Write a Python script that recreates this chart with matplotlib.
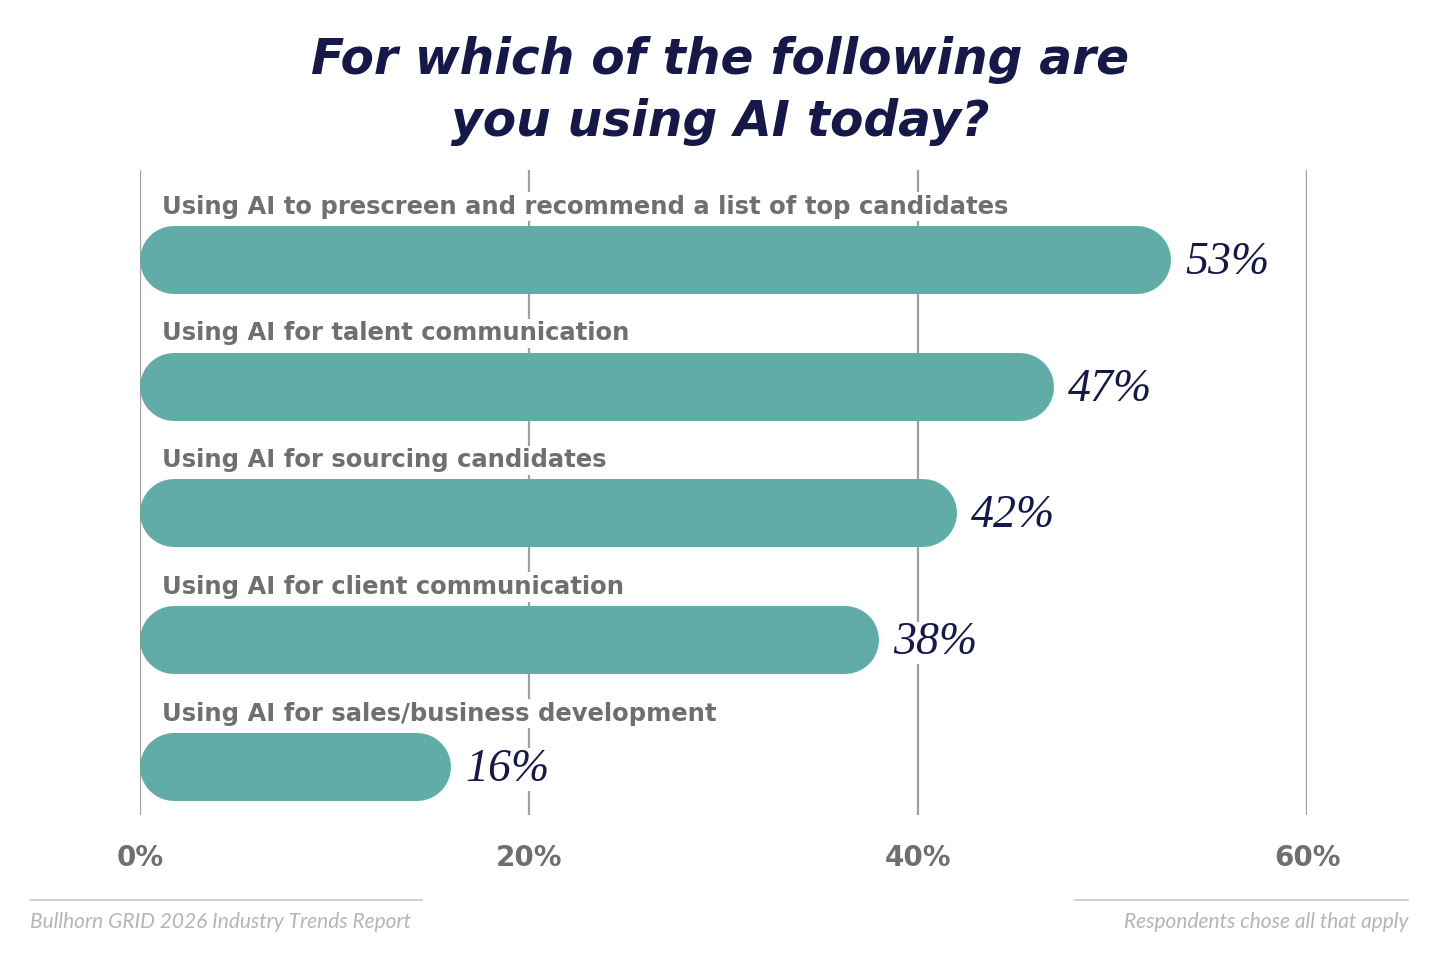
import matplotlib

matplotlib.use("Agg")
import matplotlib.pyplot as plt

categories = [
    "Using AI to prescreen and recommend a list of top candidates",
    "Using AI for talent communication",
    "Using AI for sourcing candidates",
    "Using AI for client communication",
    "Using AI for sales/business development",
]
values = [53, 47, 42, 38, 16]
ticks = [0, 20, 40, 60]
tick_labels = ["0%", "20%", "40%", "60%"]

TEAL = "#62aca8"
NAVY = "#16184a"
GRAY = "#6f6f6f"
GRID = "#a0a0a0"

W, H = 1440, 956
fig = plt.figure(figsize=(W / 100, H / 100), dpi=100)

# axes spans the gridline area: x 140..1307 px, y 170..815 px
ax = fig.add_axes([140 / W, (H - 815) / H, (1307 - 140) / W, (815 - 170) / H])
ax.set_xlim(0, 60)
ax.set_ylim(4.379, -0.71)
ax.axis("off")

for t, lab in zip(ticks, tick_labels):
    ax.axvline(t, color=GRID, lw=1.6, zorder=0)
    ax.text(t, 4.72, lab, ha="center", va="center", fontsize=20,
            fontweight="bold", color=GRAY, family="DejaVu Sans")

px_per_unit = (1307 - 140) / 60
bar_px = 68
r = bar_px / 2 / px_per_unit
box = dict(facecolor="white", edgecolor="none", pad=2)
for i, (cat, v) in enumerate(zip(categories, values)):
    ax.plot([r, v - r], [i, i], color=TEAL, lw=bar_px * 0.72,
            solid_capstyle="round", zorder=2)
    ax.text(22 / px_per_unit, i - 0.42, cat, ha="left", va="center",
            fontsize=17.5, fontweight="bold", color=GRAY, family="DejaVu Sans",
            bbox=box, zorder=3)
    ax.text(v + 14 / px_per_unit, i + 0.02, f"{v}%", ha="left", va="center",
            fontsize=33, style="italic", color=NAVY, family="Liberation Serif",
            bbox=dict(facecolor="white", edgecolor="none", pad=0), zorder=3)

for k, line in enumerate(["For which of the following are", "you using AI today?"]):
    fig.text(0.5, 1 - (60 + 62 * k) / H, line, ha="center", va="center",
             fontsize=35, fontweight="bold", style="italic", color=NAVY,
             family="DejaVu Sans")

fig.add_artist(plt.Line2D([30 / W, 422 / W], [1 - 900 / H] * 2, color="#c8c8c8", lw=1.2))
fig.add_artist(plt.Line2D([1075 / W, 1408 / W], [1 - 900 / H] * 2, color="#c8c8c8", lw=1.2))
fig.text(30 / W, 1 - 922 / H, "Bullhorn GRID 2026 Industry Trends Report", ha="left",
         va="center", fontsize=15, style="italic", color="#b5b5b5", family="Lato")
fig.text(1408 / W, 1 - 922 / H, "Respondents chose all that apply", ha="right",
         va="center", fontsize=15, style="italic", color="#b5b5b5", family="Lato")

fig.savefig("out.png", dpi=100, facecolor="white")
